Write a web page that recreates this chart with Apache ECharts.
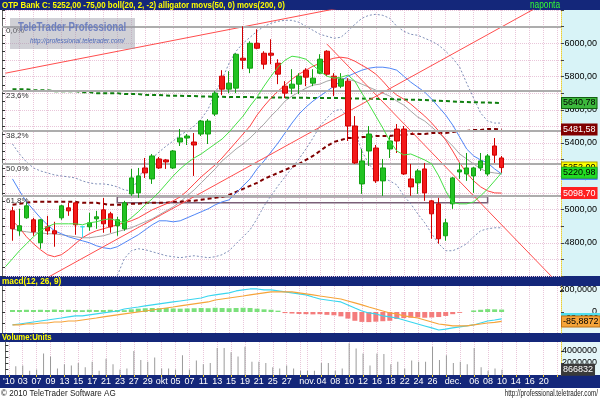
<!DOCTYPE html>
<html>
<head>
<meta charset="utf-8">
<title>OTP Bank</title>
<script src="https://cdn.jsdelivr.net/npm/echarts@6/dist/echarts.min.js"></script>
<style>
html,body{margin:0;padding:0;background:#ffffff;}
#chart{width:600px;height:400px;}
</style>
</head>
<body>
<div id="chart"></div>
<script>
// ---------------- data ----------------
const xLabels = ["'10","","03","","07","","09","","13","",
  "15","","17","","21","","23","","27","",
  "29","","okt","","05","","07","","11","",
  "13","","15","","19","","21","","25","",
  "27","","","nov.","","04","","08","","10",
  "","12","","16","","18","","22","","24",
  "","26","","","dec.","","","06","","08",
  "","10","","14","","16","","20","",""];

const openP = [null,4992,4872,4950,4938,4800,4896,4872,4950,5010,5040,4896,4896,4944,4998,4974,4902,4884,5094,5100,5250,5184,5304,5298,5250,5406,5430,5406,5454,5454,5574,5802,5724,5730,5910,5850,6000,5940,5940,5880,5742,5730,5754,5838,5760,5820,5952,5802,5742,5772,5502,5154,5352,5370,5172,5364,5484,5484,5184,5160,5244,5052,5034,4842,5034,5226,5214,5202,5250,5214,5382,5310];
const closeP = [null,4884,4902,5022,4866,4938,4872,4854,5022,4992,4908,4896,4920,4956,4914,4896,4938,5040,5190,5202,5220,5322,5250,5286,5352,5430,5442,5388,5532,5532,5700,5724,5760,5934,5898,6000,5970,5874,5928,5814,5700,5754,5802,5796,5790,5904,5814,5736,5784,5502,5280,5292,5454,5172,5250,5412,5412,5214,5136,5232,5100,4974,4824,4920,5190,5238,5250,5250,5292,5322,5327,5252];
const lowP = [null,4812,4842,4944,4842,4764,4848,4776,4938,4962,4848,4830,4872,4884,4860,4860,4842,4872,5082,5070,5190,5154,5244,5244,5244,5382,5388,5202,5442,5394,5562,5688,5700,5700,5844,5820,5964,5844,5874,5754,5670,5694,5694,5742,5742,5814,5802,5682,5730,5412,5274,5094,5262,5160,5082,5310,5340,5208,5082,5094,5052,4824,4794,4812,5004,5184,5172,5100,5232,5202,5280,5220];
const highP = [null,5016,5004,5040,4950,4944,4962,4926,5028,5040,5046,4902,4980,4992,5070,4986,4956,5052,5244,5250,5310,5334,5316,5304,5358,5484,5454,5460,5538,5544,5712,5838,5832,5940,6102,6012,6084,5952,6024,5904,5772,5844,5820,5850,5844,5934,5958,5820,5820,5790,5562,5364,5502,5388,5304,5442,5514,5502,5274,5244,5280,5058,5070,4944,5196,5280,5340,5256,5340,5334,5430,5322];

const bollUpper = [null,5394,5334,5286,5250,5232,5220,5208,5202,5196,5190,5172,5160,5154,5154,5148,5136,5118,5112,5184,5262,5310,5346,5382,5412,5448,5472,5502,5544,5604,5700,5784,5880,5952,6000,6036,6072,6102,6120,6132,6138,6138,6126,6102,6078,6054,6042,6030,6036,6072,6114,6150,6168,6174,6168,6150,6102,6072,6054,6048,6030,6012,5988,5952,5910,5856,5760,5670,5580,5532,5520,5520];
const bollMid = [null,4884,4872,4866,4860,4860,4854,4854,4848,4842,4836,4830,4830,4836,4842,4854,4866,4878,4890,4908,4926,4944,4968,4992,5016,5046,5082,5118,5160,5202,5244,5292,5328,5364,5394,5430,5472,5514,5562,5604,5652,5682,5706,5730,5748,5754,5772,5784,5790,5784,5772,5754,5736,5718,5700,5682,5652,5628,5592,5556,5532,5496,5460,5424,5382,5334,5304,5274,5244,5226,5220,5214];
const bollLower = [null,null,null,null,null,null,null,null,null,null,null,null,null,null,null,null,4602,4704,4752,4764,4758,4746,4734,4722,4716,4710,4716,4722,4716,4710,4716,4728,4752,4794,4836,4878,4944,5022,5082,5142,5196,5250,5304,5364,5430,5502,5550,5592,5604,5556,5472,5352,5274,5220,5190,5172,5148,5082,5034,4974,4920,4854,4794,4752,4752,4770,4794,4836,4872,4884,4890,4890];

const alligatorJaw = [null,5184,5112,5046,4998,4950,4908,4872,4854,4836,4824,4812,4800,4782,4770,4764,4776,4800,4824,4848,4878,4908,4932,4932,4926,4932,4950,4968,4986,5004,5028,5046,5058,5100,5142,5184,5244,5292,5346,5400,5460,5520,5574,5616,5652,5682,5712,5742,5772,5802,5820,5838,5850,5856,5856,5850,5838,5802,5766,5736,5706,5664,5616,5568,5508,5436,5364,5322,5298,5280,5244,5214];
const alligatorTeeth = [null,4932,4890,4836,4794,4758,4728,4716,4728,4758,4794,4830,4854,4872,4884,4896,4908,4920,4932,4950,4974,4998,5016,5034,5052,5076,5112,5154,5196,5232,5268,5310,5358,5406,5454,5502,5568,5622,5670,5712,5748,5784,5814,5838,5862,5880,5898,5910,5916,5910,5892,5868,5844,5814,5772,5724,5688,5664,5634,5598,5562,5520,5472,5418,5352,5280,5220,5172,5136,5112,5100,5098.70];
const alligatorLips = [4656,4704,4752,4794,4836,4872,4896,4914,4914,4914,4914,4908,4920,4926,4938,4944,4932,4920,4950,4986,5028,5064,5106,5154,5202,5244,5280,5310,5334,5364,5394,5424,5466,5514,5562,5622,5676,5742,5802,5856,5898,5922,5916,5904,5868,5832,5802,5790,5796,5808,5772,5700,5634,5562,5490,5412,5352,5328,5334,5316,5298,5274,5202,5112,5040,5034,5034,5046,5082,5124,5172,5220.98];

const movs50 = [null,5724,5724,5724,5718,5718,5718,5712,5712,5712,5712,5706,5706,5700,5700,5700,5700,5694,5694,5694,5690,5688,5688,5686,5684,5684,5682,5682,5680,5680,5678,5678,5676,5676,5676,5676,5674,5674,5674,5674,5674,5672,5672,5672,5670,5670,5670,5670,5670,5668,5668,5668,5666,5666,5664,5664,5662,5662,5660,5660,5658,5656,5654,5652,5650,5648,5646,5645,5644,5643,5642,5640.78];
const movs200 = [null,5028,5034,5040,5046,5046,5046,5046,5046,5046,5046,5040,5040,5040,5034,5028,5028,5028,5034,5034,5040,5040,5040,5040,5046,5046,5052,5052,5058,5064,5070,5076,5088,5106,5124,5142,5160,5184,5202,5220,5238,5256,5274,5298,5322,5352,5382,5406,5418,5430,5430,5436,5436,5442,5442,5442,5448,5448,5454,5454,5454,5460,5460,5460,5466,5472,5472,5478,5478,5484,5484,5481.58];

const macdLine = [null,-118,-109,-100,-91,-82,-73,-64,-55,-45,-36,-36,-27,-18,-9,0,9,27,36,45,55,64,73,82,91,100,109,118,127,145,155,164,173,191,200,209,209,200,200,191,182,173,164,155,136,118,109,100,91,64,36,9,-9,-18,-36,-45,-55,-73,-91,-109,-127,-145,-164,-155,-145,-136,-127,-118,-100,-82,-73,-63.462];
const macdSignal = [null,-118,-118,-109,-109,-100,-100,-91,-91,-82,-82,-73,-64,-55,-45,-36,-27,-18,-9,0,9,18,27,36,45,55,64,73,82,91,109,118,127,136,145,155,164,173,182,182,182,182,173,164,155,145,136,127,118,100,82,64,45,27,9,-9,-18,-36,-45,-55,-73,-91,-109,-118,-127,-127,-127,-118,-109,-100,-95,-85.8872];
const macdHist = [null,18,18,20,18,20,18,22,18,20,18,16,20,18,18,20,18,16,24,30,34,36,34,36,32,30,32,34,36,34,38,36,34,36,38,36,30,24,20,12,-10,-14,-18,-20,-22,-20,-26,-30,-40,-60,-80,-90,-92,-88,-84,-80,-64,-56,-52,-50,-52,-50,-46,-36,-20,-8,0,14,20,26,24,22];

const volume = [null,1450000,1600000,700000,900000,3600000,3100000,1100000,1800000,1600000,2000000,1300000,2200000,700000,2700000,1800000,900000,1100000,4000000,2500000,2200000,2900000,1100000,1100000,900000,3300000,900000,2400000,1800000,2000000,4500000,4500000,3800000,3100000,4700000,2200000,2200000,2000000,1300000,1100000,1600000,1100000,700000,700000,700000,2000000,2000000,700000,1100000,5300000,4400000,3600000,1600000,3600000,3500000,1800000,2200000,1100000,2400000,2200000,2200000,4700000,2500000,3300000,2000000,2200000,1800000,4500000,1300000,700000,1100000,866832];

const fibPrices = [6102, 5712, 5471, 5276, 5081];
const fibLabels = ['0,0%', '23,6%', '38,2%', '50,0%', '61,8%'];
const trendA = [[0, 5820], [79, 6468]];
const trendB = [[0, 4451], [79, 6284]];
const trendC = [[46, 5995], [79, 4560]];
const zoneRect = [[16, 5076], [69, 5040]];

// ---------------- chart ----------------
const FONT = "'Liberation Sans',Arial,sans-serif";
const NAVY = '#14277a';
const fmt2 = v => v.toFixed(2).replace('.', ',');
const fmt4 = v => v.toFixed(4).replace('.', ',');
const cats = xLabels.map((_, i) => String(i));
const dash = a => a.map(v => (v === null ? '-' : v));
const last = a => a[a.length - 1];
const candleData = openP.map((o, i) => (o === null ? '-' : [o, closeP[i], lowP[i], highP[i]]));
const tickAt = i => (i <= 42 ? i % 2 === 0 : i % 2 === 1);
const blank = cats.map(() => '-');

function boxSeries(xi, yi, value, text, bg, fg, border, z) {
  return {
    type: 'line', xAxisIndex: xi, yAxisIndex: yi, data: blank, symbol: 'none', silent: true, clip: false, z: z,
    markLine: {
      silent: true, symbol: ['none', 'none'], animation: false,
      lineStyle: { color: 'rgba(0,0,0,0)', width: 1 },
      label: { show: true, position: 'end', distance: 1, formatter: text, backgroundColor: bg, color: fg,
        borderColor: border || bg, borderWidth: 1, padding: [1, 1, 0, 1], fontFamily: FONT, fontSize: 9, lineHeight: 9 },
      data: [{ yAxis: value }]
    }
  };
}

function xAxisFor(g, withLabels) {
  return {
    type: 'category', gridIndex: g, data: cats, boundaryGap: true,
    axisLine: { show: false },
    axisTick: { show: withLabels, interval: tickAt, alignWithLabel: true, length: 2, lineStyle: { color: '#f0d020', width: 1 } },
    axisLabel: { show: withLabels, interval: 0, formatter: (v, i) => xLabels[i], color: '#ffffff', fontFamily: FONT, fontSize: 9, margin: 2 },
    splitLine: { show: true, interval: tickAt, alignWithLabel: true, lineStyle: { color: '#e9c6da', type: 'dotted', width: 1 } }
  };
}

const rightLabel = { align: 'right', margin: 36, color: '#000', fontFamily: FONT, fontSize: 9 };
const rightLine = { show: true, lineStyle: { color: '#e6cf3a', type: 'dotted' } };
const leftLine = { show: true, lineStyle: { color: '#666' } };

function lineSeries(data, color, width, type, z) {
  return {
    type: 'line', xAxisIndex: 0, yAxisIndex: 0, data: dash(data), symbol: 'none', showSymbol: false,
    lineStyle: { color: color, width: width, type: type }, z: z, silent: true
  };
}

function trendSeries(pts) {
  return {
    type: 'line', xAxisIndex: 0, yAxisIndex: 0, data: pts.map(p => [String(p[0]), p[1]]),
    symbol: 'none', showSymbol: false, clip: true, lineStyle: { color: '#ff4d4d', width: 1 }, z: 3, silent: true
  };
}

function txt(x, y, text, fill, font, align, sx, z) {
  return { type: 'text', z: z || 50, silent: true, x: x, y: y, scaleX: sx || 1,
    style: { text: text, fill: fill, font: font, verticalAlign: 'middle', align: align || 'left' } };
}

const option = {
  animation: false,
  backgroundColor: '#ffffff',
  textStyle: { fontFamily: FONT },
  grid: [
    { left: 2, right: 38, top: 10, height: 266 },
    { left: 2, right: 38, top: 286, height: 47 },
    { left: 2, right: 38, top: 342, height: 33 }
  ],
  xAxis: [xAxisFor(0, false), xAxisFor(1, false), xAxisFor(2, true)],
  yAxis: [
    { type: 'value', gridIndex: 0, position: 'right', min: 4600, max: 6200, interval: 100,
      axisLine: rightLine, axisTick: { show: true, length: 3, lineStyle: { color: '#444' } },
      axisLabel: Object.assign({}, rightLabel, { formatter: v => (v % 200 === 0 && v >= 4800 && v <= 6000 ? fmt2(v) : '') }),
      splitLine: { show: true, lineStyle: { color: '#e9c6da', type: 'dotted' } } },
    { type: 'value', gridIndex: 0, position: 'left', min: 4600, max: 6200, interval: 50,
      axisLine: leftLine, axisTick: { show: true, inside: true, length: 3, lineStyle: { color: '#333' } },
      axisLabel: { show: false }, splitLine: { show: false } },
    { type: 'value', gridIndex: 1, position: 'right', min: -191, max: 236,
      axisLine: rightLine, axisTick: { show: true, length: 3, customValues: [0, 200], lineStyle: { color: '#444' } },
      axisLabel: Object.assign({}, rightLabel, { customValues: [0, 200], formatter: v => (v === 0 ? '0' : fmt4(v)) }),
      splitLine: { show: false } },
    { type: 'value', gridIndex: 1, position: 'left', min: -191, max: 236,
      axisLine: leftLine, axisTick: { show: true, inside: true, length: 3, customValues: [-100, 0, 100, 200], lineStyle: { color: '#333' } },
      axisLabel: { show: false }, splitLine: { show: false } },
    { type: 'value', gridIndex: 2, position: 'right', min: 0, max: 5500000,
      axisLine: rightLine, axisTick: { show: true, length: 3, customValues: [2000000, 4000000], lineStyle: { color: '#444' } },
      axisLabel: Object.assign({}, rightLabel, { customValues: [2000000, 4000000], formatter: v => String(v) }),
      splitLine: { show: false } },
    { type: 'value', gridIndex: 2, position: 'left', min: 0, max: 5500000,
      axisLine: leftLine, axisTick: { show: true, inside: true, length: 3, customValues: [1000000, 2000000, 3000000, 4000000, 5000000], lineStyle: { color: '#333' } },
      axisLabel: { show: false }, splitLine: { show: false } }
  ],
  series: [
    // Fibonacci levels and zone (drawn under everything)
    { type: 'line', xAxisIndex: 0, yAxisIndex: 0, data: blank, symbol: 'none', z: 1, silent: true,
      markLine: { silent: true, symbol: ['none', 'none'], animation: false,
        lineStyle: { color: '#adadad', width: 2, type: 'solid' },
        label: { show: true, position: 'insideStartBottom', distance: [4, 1], color: '#333', fontFamily: FONT, fontSize: 8 },
        data: fibPrices.map((p, k) => ({ yAxis: p, label: { formatter: fibLabels[k] } })) },
      markArea: { silent: true, itemStyle: { color: 'rgba(255,255,255,0)', borderColor: '#7a5f78', borderWidth: 1.5 },
        data: [[{ xAxis: String(zoneRect[0][0]), yAxis: zoneRect[0][1] }, { xAxis: String(zoneRect[1][0]), yAxis: zoneRect[1][1] }]] } },
    lineSeries(bollUpper, '#7f8fb8', 1, [2, 2], 2),
    lineSeries(bollLower, '#7f8fb8', 1, [2, 2], 2),
    lineSeries(bollMid, '#a6a6a6', 1, 'solid', 2),
    lineSeries(movs50, '#0f7f0f', 2, [4, 3], 2),
    lineSeries(movs200, '#800000', 2, [4, 3], 2),
    lineSeries(alligatorJaw, '#4f86f7', 1, 'solid', 3),
    lineSeries(alligatorTeeth, '#ff4444', 1, 'solid', 3),
    trendSeries(trendA),
    trendSeries(trendB),
    trendSeries(trendC),
    { type: 'candlestick', xAxisIndex: 0, yAxisIndex: 0, data: candleData, barWidth: 5, z: 5, silent: true,
      itemStyle: { color: '#22c322', color0: '#f21a1a', borderColor: '#12a012', borderColor0: '#d00000', borderColorDoji: '#39dcef', borderWidth: 1 } },
    lineSeries(alligatorLips, '#45e045', 1, 'solid', 6),
    // last-value boxes on the price axis
    boxSeries(0, 0, last(movs50), fmt2(last(movs50)), '#3cb83c', '#000', '#106010', 7),
    boxSeries(0, 0, last(movs200), fmt2(last(movs200)), '#800000', '#fff', '#800000', 7),
    boxSeries(0, 0, last(closeP), fmt2(last(closeP)), '#ffff00', '#000', '#b0a000', 7),
    boxSeries(0, 0, last(alligatorJaw), fmt2(last(alligatorJaw)), '#4f86f7', '#fff', '#4f86f7', 8),
    boxSeries(0, 0, last(alligatorLips), fmt2(last(alligatorLips)), '#22dd22', '#000', '#22aa22', 9),
    boxSeries(0, 0, last(alligatorTeeth), fmt2(last(alligatorTeeth)), '#ff2020', '#fff', '#ff2020', 9),
    // MACD
    { type: 'bar', xAxisIndex: 1, yAxisIndex: 2, data: dash(macdHist), barWidth: 5, silent: true,
      itemStyle: { color: p => (p.value >= 0 ? '#7be07b' : '#f47c7c') } },
    { type: 'line', xAxisIndex: 1, yAxisIndex: 2, data: dash(macdLine), symbol: 'none', silent: true, z: 3,
      lineStyle: { color: '#3ad6ef', width: 1.2 } },
    { type: 'line', xAxisIndex: 1, yAxisIndex: 2, data: dash(macdSignal), symbol: 'none', silent: true, z: 4,
      lineStyle: { color: '#f6a43a', width: 1.2 } },
    boxSeries(1, 2, last(macdLine), fmt4(last(macdLine)), '#4fe0f2', '#000', '#4fe0f2', 7),
    boxSeries(1, 2, last(macdSignal), fmt4(last(macdSignal)), '#f6a43a', '#000', '#c07010', 8),
    // Volume
    { type: 'bar', xAxisIndex: 2, yAxisIndex: 4, data: dash(volume), barWidth: 1, silent: true,
      itemStyle: { color: '#9a9a9a' } },
    boxSeries(2, 4, last(volume), String(last(volume)), '#3a3a3a', '#fff', '#3a3a3a', 7)
  ],
  graphic: [
    { type: 'rect', z: -10, silent: true, shape: { x: 0, y: 0, width: 600, height: 10 }, style: { fill: NAVY } },
    { type: 'rect', z: -10, silent: true, shape: { x: 562, y: 10, width: 38, height: 266 }, style: { fill: '#d8f3f7' } },
    { type: 'rect', z: -10, silent: true, shape: { x: 0, y: 276, width: 600, height: 10 }, style: { fill: NAVY } },
    { type: 'rect', z: -10, silent: true, shape: { x: 562, y: 286, width: 38, height: 47 }, style: { fill: '#e3f6f8' } },
    { type: 'rect', z: -10, silent: true, shape: { x: 0, y: 333, width: 600, height: 9 }, style: { fill: NAVY } },
    { type: 'rect', z: -10, silent: true, shape: { x: 562, y: 342, width: 38, height: 33 }, style: { fill: '#e3f6f8' } },
    { type: 'rect', z: -10, silent: true, shape: { x: 0, y: 375, width: 600, height: 13 }, style: { fill: NAVY } },
    txt(2, 5, 'OTP Bank C: ' + fmt2(last(closeP)) + ' ' + fmt2(last(closeP) - closeP[closeP.length - 2]) +
        ' boll(20, 2, -2) alligator movs(50, 0) movs(200, 0)', '#ffff00', 'bold 9.3px ' + FONT, 'left', 0.85),
    txt(530, 5, 'naponta', '#33ff33', '10px ' + FONT, 'left', 0.83),
    txt(2, 281, 'macd(12, 26, 9)', '#ffff00', 'bold 9.5px ' + FONT, 'left', 0.87),
    txt(2, 337.5, 'Volume:Units', '#ffff00', 'bold 9.5px ' + FONT, 'left', 0.82),
    txt(1, 393.5, '\u00a9 2010 TeleTrader Software AG', '#222', '9.5px ' + FONT, 'left', 0.85),
    txt(598, 393.5, 'http://professional.teletrader.com/', '#222', '8.3px ' + FONT, 'right', 0.76),
    { type: 'rect', z: 60, silent: true, shape: { x: 10, y: 18, width: 125, height: 31 }, style: { fill: 'rgba(150,150,165,0.45)' } },
    txt(18, 28, 'TeleTrader Professional', 'rgba(100,120,190,0.9)', 'bold 12px ' + FONT, 'left', 0.8, 61),
    txt(30, 40.5, 'http://professional.teletrader.com/', 'rgba(60,90,180,0.9)', 'italic 7.8px ' + FONT, 'left', 0.82, 61)
  ]
};

const chart = echarts.init(document.getElementById('chart'), null, { renderer: 'canvas', width: 600, height: 400 });
chart.setOption(option);
</script>
</body>
</html>
